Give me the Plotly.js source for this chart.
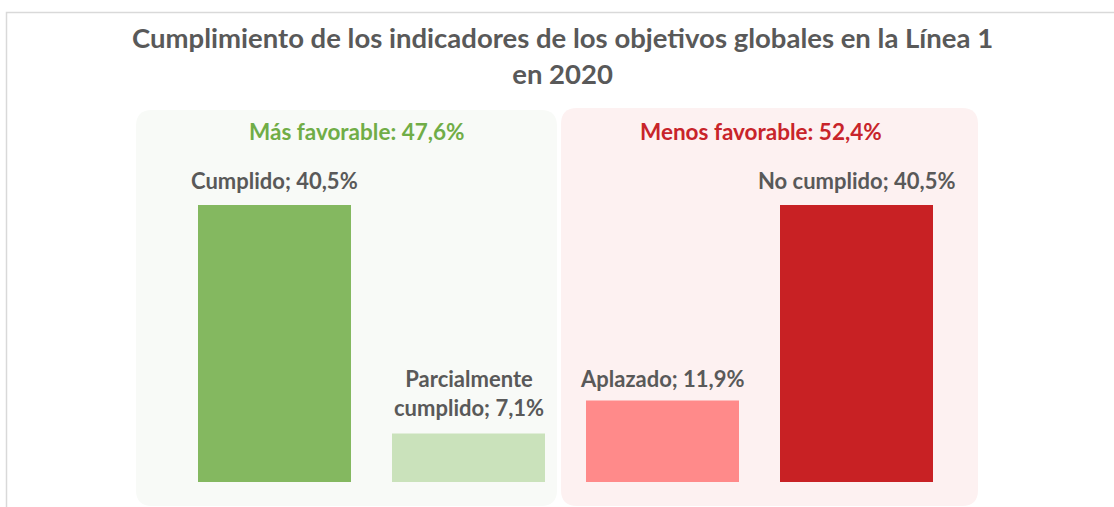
<!DOCTYPE html>
<html>
<head>
<meta charset="utf-8">
<script src="https://cdn.plot.ly/plotly-3.0.1.min.js"></script>
<style>html,body{margin:0;padding:0;background:#fff;}#chart{width:1114px;height:507px;}</style>
</head>
<body>
<div id="chart"></div>
<script>
const categories = ["Cumplido", "Parcialmente cumplido", "Aplazado", "No cumplido"];
const labelTexts = ["Cumplido; 40,5%", "Parcialmente<br>cumplido; 7,1%", "Aplazado; 11,9%", "No cumplido; 40,5%"];
const values = [40.5, 7.1, 11.9, 40.5];
const barColors = ["#84b860", "#cae2bb", "#ff8a8a", "#c82124"];
const groupLabels = ["Más favorable: 47,6%", "Menos favorable: 52,4%"];
const groupColors = ["#70ad47", "#c8242a"];
const titleText = "Cumplimiento de los indicadores de los objetivos globales en la Línea 1<br>en 2020";

const FONT = "Lato, 'Open Sans', sans-serif";
const xs = categories.map((c, i) => i);

// pixel helpers (plot area: l=120, width=880, t=100, height=407)
const pxPerX = 194, pxPerY = 277 / 40.5;
const x0px = 274.5, y0px = 482;
const dx = px => (px - x0px) / pxPerX;
const dy = py => (y0px - py) / pxPerY;

function roundRect(x1, y1, x2, y2, r) {
  const X1 = dx(x1), X2 = dx(x2), Y1 = dy(y1), Y2 = dy(y2);
  const rx = r / pxPerX, ry = r / pxPerY;
  return `M ${X1 + rx},${Y1} L ${X2 - rx},${Y1} Q ${X2},${Y1} ${X2},${Y1 - ry} ` +
         `L ${X2},${Y2 + ry} Q ${X2},${Y2} ${X2 - rx},${Y2} L ${X1 + rx},${Y2} ` +
         `Q ${X1},${Y2} ${X1},${Y2 + ry} L ${X1},${Y1 - ry} Q ${X1},${Y1} ${X1 + rx},${Y1} Z`;
}

const trace = {
  type: "bar",
  x: xs,
  y: values,
  marker: {color: barColors, line: {width: 0}},
  hoverinfo: "skip"
};

const labelShift = [25, 40, 22, 25];
const annotations = values.map((v, i) => ({
  x: xs[i], y: v, xref: "x", yref: "y",
  text: "<b>" + labelTexts[i] + "</b>",
  showarrow: false, yanchor: "middle", yshift: labelShift[i],
  font: {family: FONT, size: 22, color: "#595959"}
}));
annotations.push({
  x: dx(357), y: dy(131), xref: "x", yref: "y", text: "<b>" + groupLabels[0] + "</b>",
  showarrow: false, font: {family: FONT, size: 22.5, color: groupColors[0]}
});
annotations.push({
  x: dx(761), y: dy(131), xref: "x", yref: "y", text: "<b>" + groupLabels[1] + "</b>",
  showarrow: false, font: {family: FONT, size: 22.5, color: groupColors[1]}
});

const layout = {
  width: 1114, height: 507,
  margin: {l: 120, r: 114, t: 100, b: 0},
  paper_bgcolor: "#ffffff", plot_bgcolor: "rgba(0,0,0,0)",
  title: {text: "<b>" + titleText + "</b>", x: 0.505, xanchor: "center", y: 1 - 48 / 507, yanchor: "middle",
          font: {family: FONT, size: 27.5, color: "#595959"}},
  xaxis: {range: [dx(120), dx(1000)], showgrid: false, zeroline: false, showticklabels: false, showline: false, fixedrange: true},
  yaxis: {range: [dy(507), dy(100)], showgrid: false, zeroline: false, showticklabels: false, showline: false, fixedrange: true},
  bargap: 1 - 153 / 194,
  showlegend: false,
  shapes: [
    {type: "path", xref: "x", yref: "y", path: roundRect(136, 110, 557, 506, 16), fillcolor: "#f8faf7", line: {width: 0}, layer: "below"},
    {type: "path", xref: "x", yref: "y", path: roundRect(561, 108, 978, 506, 16), fillcolor: "#fdf1f1", line: {width: 0}, layer: "below"},
    {type: "path", xref: "paper", yref: "paper",
     path: `M ${(6.5 - 120) / 880},-0.05 L ${(6.5 - 120) / 880},${(507 - 12.5) / 407} L 1.2,${(507 - 12.5) / 407}`,
     line: {color: "#d9d9d9", width: 1.5}, layer: "above"}
  ],
  annotations: annotations
};

Plotly.newPlot("chart", [trace], layout, {displayModeBar: false, staticPlot: true});
</script>
</body>
</html>
